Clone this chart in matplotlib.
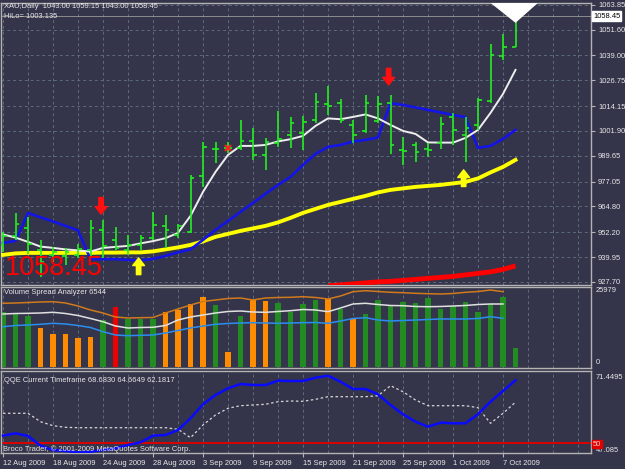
import matplotlib
matplotlib.use('Agg')
import matplotlib.pyplot as plt
from matplotlib.patches import Polygon
from matplotlib.ticker import FixedLocator, NullFormatter
from matplotlib import font_manager
import numpy as np

plt.rcParams['font.family'] = ['Liberation Sans', 'DejaVu Sans']

# ---------------- data ----------------
tick_idx = [0, 4, 8, 12, 16, 20, 24, 28, 32, 36, 40]
tick_labels = ['12 Aug 2009', '18 Aug 2009', '24 Aug 2009', '28 Aug 2009', '3 Sep 2009',
               '9 Sep 2009', '15 Sep 2009', '21 Sep 2009', '25 Sep 2009', '1 Oct 2009', '7 Oct 2009']

opens = [945.91, 950.34, 954.27, 943.46, 941.00, 940.51, 941.00, 943.46, 953.28, 948.37, 943.46, 945.91,
         949.35, 955.25, 950.83, 952.30, 979.82, 993.09, 993.58, 993.58, 997.02, 990.14, 996.04, 999.97,
         1000.95, 1007.34, 1015.20, 1015.69, 1004.88, 1001.93, 1006.85, 1015.69, 992.60, 995.05, 993.09,
         996.04, 1008.81, 999.97, 1004.88, 1016.68, 1038.79, 1043.00]
highs = [952.30, 961.64, 959.67, 948.37, 944.93, 944.44, 946.41, 958.20, 958.20, 954.76, 950.83, 950.83,
         962.13, 960.66, 956.23, 980.31, 996.53, 996.53, 996.53, 1007.34, 1003.41, 998.49, 1011.76, 1008.81,
         1009.30, 1020.61, 1024.05, 1017.66, 1007.34, 1019.62, 1019.13, 1019.62, 998.99, 996.53, 996.04,
         1008.81, 1010.78, 1008.81, 1018.15, 1044.69, 1049.60, 1059.15]
lows = [942.47, 948.37, 941.49, 930.19, 937.56, 936.09, 939.53, 939.53, 939.53, 943.46, 941.00, 943.46,
        948.37, 944.44, 949.35, 951.81, 974.42, 986.21, 991.12, 992.60, 987.68, 982.77, 994.07, 993.58,
        992.60, 1005.86, 1009.80, 1005.86, 996.04, 1000.95, 1005.86, 990.63, 985.23, 986.70, 989.16,
        993.09, 995.05, 986.70, 1002.42, 1015.69, 1036.82, 1043.00]
closes = [950.34, 956.23, 946.41, 937.56, 942.47, 942.47, 943.95, 954.27, 945.42, 944.44, 945.91, 949.35,
          955.74, 953.28, 955.25, 978.84, 994.07, 993.09, 993.58, 997.02, 990.14, 996.53, 998.00, 1005.86,
          1006.36, 1016.18, 1014.22, 1007.34, 999.97, 1015.69, 1015.20, 995.05, 992.11, 991.61, 992.60,
          1005.37, 1002.42, 1003.41, 1017.17, 1039.28, 1043.00, 1058.45]

ma_white = [951.07, 949.50, 947.39, 945.08, 944.44, 943.70, 943.21, 942.62, 944.44, 944.93, 945.42, 946.65,
            947.78, 949.21, 951.81, 960.16, 971.96, 981.79, 990.14, 994.56, 994.56, 995.05, 996.77, 997.85,
            999.48, 1004.39, 1008.08, 1007.68, 1008.81, 1010.04, 1008.08, 1004.88, 1001.93, 1000.46, 996.28,
            996.18, 996.18, 998.49, 1002.42, 1010.78, 1020.12, 1031.91]
trail_blue = [946.90, 947.88, 961.64, 959.43, 957.46, 955.25, 953.04, 938.89, 938.89, 938.89, 938.54, 938.30,
              939.03, 940.51, 942.23, 943.70, 948.37, 953.28, 957.71, 962.13, 966.55, 970.98, 975.40, 979.33,
              985.23, 990.63, 994.07, 995.05, 996.68, 997.51, 998.74, 1015.55, 1014.71, 1013.48, 1012.25,
              1011.02, 1009.80, 1008.67, 993.58, 994.56, 998.00, 1002.42]
ma_yellow = [941.00, 941.74, 941.98, 941.98, 941.98, 941.98, 941.98, 941.98, 942.13, 942.13, 942.23, 942.23,
             942.72, 943.70, 944.69, 945.91, 947.63, 949.85, 951.32, 952.79, 954.02, 955.25, 956.97, 959.18,
             961.64, 963.60, 965.57, 967.04, 968.52, 969.99, 971.71, 972.94, 973.68, 974.42, 974.91, 975.40,
             976.14, 976.87, 978.59, 981.54, 984.24, 987.68]
red_start = 26
ma_red = [925.77, 926.26, 926.75, 927.24, 927.73, 927.98, 928.47, 928.96, 929.45, 929.94, 930.43, 931.17,
          931.91, 932.65, 933.88, 935.60]

sell_idx = [8, 31]
sell_tip = [961.0, 1024.5]
buy_idx = [11, 37]
buy_tip = [939.5, 982.8]
cross_idx = [18]

tri_x = [39.1, 42.7, 41.0]
tri_y = [1064.8, 1064.8, 1055.5]

price_ticks = [1063.85, 1051.60, 1039.00, 1026.75, 1014.15, 1001.90, 989.65, 977.05, 964.80, 952.20,
               939.95, 927.70]

volume = [18220, 17880, 17090, 12990, 10890, 10890, 9560, 10090, 15750, 19980, 15890, 15890, 16090, 18220,
          18980, 20980, 23310, 20750, 5000, 17090, 22650, 22080, 21320, 18220, 20980, 22310, 22750, 19220,
          15990, 17650, 22310, 20750, 21550, 21210, 22880, 19320, 20320, 21750, 18220, 20980, 23210, 6430]
vol_class = ['g', 'g', 'g', 'o', 'o', 'o', 'o', 'o', 'g', 'r', 'g', 'g', 'g', 'o', 'o', 'o', 'o', 'g', 'o',
             'g', 'o', 'o', 'g', 'g', 'g', 'g', 'o', 'g', 'o', 'g', 'g', 'g', 'g', 'g', 'g', 'g', 'g', 'g',
             'g', 'g', 'g', 'g']
vol_ma_orange = [21217, 21316, 21483, 21650, 21750, 21316, 20317, 18985, 17986, 16654, 16320, 16420, 16487,
                 17986, 19318, 20650, 21816, 22316, 22815, 22982, 22316, 22982, 23148, 23215, 23415, 23148,
                 22649, 23648, 25080, 25413, 25147, 24880, 24747, 24547, 24414, 24314, 24481, 24880, 25147,
                 25646, 25080]
vol_ma_white = [17653, 17819, 17886, 17986, 18219, 17819, 17153, 16154, 15088, 13656, 12990, 13156, 13223,
                13822, 15654, 16654, 17320, 17986, 18485, 18652, 18319, 18219, 18485, 18752, 19152, 18985,
                18419, 19651, 20983, 21217, 20817, 20484, 20417, 20151, 20084, 20151, 20317, 20484, 20817,
                20983, 20983]
vol_ma_blue = [13423, 13822, 13989, 14222, 14555, 14322, 13822, 13156, 11757, 10658, 10425, 10558, 10658,
               11324, 12157, 12990, 13656, 14222, 14489, 14655, 14755, 14655, 14555, 14655, 14755, 14822,
               14555, 15321, 16154, 16420, 15654, 15321, 15488, 15654, 15821, 15987, 15987, 15987, 16154,
               16753, 16220]
vol_max = 25979

qqe_rsi = [52.23, 52.94, 52.14, 49.26, 47.98, 47.68, 47.30, 47.47, 47.98, 48.48, 49.46, 50.27, 52.23, 52.44,
           53.92, 57.40, 61.56, 64.32, 66.31, 67.59, 67.29, 67.29, 68.57, 68.48, 68.48, 69.46, 70.05, 68.27,
           66.10, 66.10, 64.53, 61.35, 58.59, 56.39, 54.90, 56.09, 55.91, 55.91, 58.59, 62.33, 65.51, 68.68]
qqe_trail = [58.88, 58.88, 58.88, 56.39, 55.20, 54.72, 54.60, 54.60, 54.60, 54.60, 54.60, 54.60, 54.60,
             54.60, 54.13, 51.63, 55.41, 58.38, 60.37, 61.14, 61.35, 61.56, 62.33, 62.54, 62.45, 63.04,
             63.81, 63.81, 63.81, 63.81, 64.11, 67.08, 65.30, 62.83, 61.14, 61.14, 61.14, 61.14, 60.55,
             55.91, 58.88, 62.18]
qqe_title_vals = [68.6830, 64.6649, 62.1817]
qqe_level = 50
qqe_min, qqe_max = 47.085, 71.4495

# ---------------- styling ----------------
W, H = 625, 469
BG = '#34354a'
GRID = '#5d6b7a'
FRAME = '#b4b4b4'
TXT = '#e8e8e8'
FS = 5.4

installed = {f.name for f in font_manager.fontManager.ttflist}
if 'Liberation Sans Narrow' in installed:
    big_family, big_size = ['Liberation Sans Narrow'], 22.5
else:
    big_family, big_size = ['Liberation Sans', 'DejaVu Sans'], 19.5

fig = plt.figure(figsize=(W / 100, H / 100), dpi=100, facecolor=BG)


def px_axes(x0, y0, x1, y1):
    ax = fig.add_axes([x0 / W, 1 - y1 / H, (x1 - x0) / W, (y1 - y0) / H])
    ax.set_facecolor(BG)
    for s in ax.spines.values():
        s.set_color(FRAME)
        s.set_linewidth(1.0)
    ax.set_xlim(-0.16, 47.04)
    ax.xaxis.set_major_locator(FixedLocator(tick_idx))
    ax.xaxis.set_minor_locator(FixedLocator(list(range(0, 48, 2))))
    ax.grid(True, which='both', axis='x', color=GRID, linestyle=(0, (3, 3)), linewidth=0.7)
    ax.tick_params(axis='x', which='both', length=0, labelbottom=False)
    ax.set_axisbelow(True)
    return ax


def ftext(x, y, s, **kw):
    kw.setdefault('color', TXT)
    kw.setdefault('fontsize', FS)
    kw.setdefault('va', 'center')
    return fig.text(x / W, 1 - y / H, s, **kw)


idx = np.arange(len(closes))

# ---------------- main price panel ----------------
ax = px_axes(1, 3, 591, 285)
ax.set_ylim(926.2, 1064.8)
ax.yaxis.tick_right()
ax.set_yticks(price_ticks)
ax.set_yticklabels(['%.2f' % p for p in price_ticks])
ax.tick_params(axis='y', colors=FRAME, labelcolor=TXT, labelsize=FS, length=3, pad=2)
ax.grid(True, axis='y', color=GRID, linestyle=(0, (3, 3)), linewidth=0.7)

ax.axhline(closes[-1], color='#9a9a9a', linewidth=0.6, zorder=1)

ax.plot(np.arange(red_start, red_start + len(ma_red)), ma_red, color='#ff0000', linewidth=3.5, zorder=3,
        solid_capstyle='butt')
ax.plot(idx, ma_yellow, color='#ffff00', linewidth=2.8, zorder=3)
ax.plot(idx, trail_blue, color='#1414e6', linewidth=1.9, zorder=3)
ax.plot(idx, ma_white, color='#eeeeee', linewidth=1.4, zorder=3)

bar_c = '#22ee22'
ax.vlines(idx, lows, highs, color=bar_c, linewidth=1.2, zorder=4)
ax.hlines(opens, idx - 0.3, idx, color=bar_c, linewidth=1.2, zorder=4)
ax.hlines(closes, idx, idx + 0.3, color=bar_c, linewidth=1.2, zorder=4)
ax.plot([idx[i] for i in cross_idx], [closes[i] for i in cross_idx], 'x', color='#ff2020',
        markersize=4, markeredgewidth=1.5, zorder=5)

astyle = 'simple,head_length=0.55,head_width=0.85,tail_width=0.32'
for i, p in zip(sell_idx, sell_tip):
    ax.annotate('', xy=(i - 0.15, p), xytext=(0, 12), textcoords='offset points',
                arrowprops=dict(arrowstyle=astyle, color='#ff1010', mutation_scale=10,
                                shrinkA=0, shrinkB=0), zorder=6)
for i, p in zip(buy_idx, buy_tip):
    ax.annotate('', xy=(i - 0.15, p), xytext=(0, -12), textcoords='offset points',
                arrowprops=dict(arrowstyle=astyle, color='#ffff10', mutation_scale=10,
                                shrinkA=0, shrinkB=0), zorder=6)

ax.add_patch(Polygon(list(zip(tri_x, tri_y)), closed=True, facecolor='white', edgecolor='white',
                     zorder=6, clip_on=True))

ax.text(0.006, 0.06, '%.2f' % closes[-1], transform=ax.transAxes, color='#ff0000', fontsize=big_size,
        family=big_family, va='center', ha='left', zorder=7)

ftext(4, 7, 'XAU,Daily  %.2f %.2f %.2f %.2f' % (opens[-1], highs[-1], lows[-1], closes[-1]))
ftext(4, 16, 'HiLo= 1003.135')
fig.text(593 / W, 1 - 16 / H, '%.2f' % closes[-1], color='black', fontsize=FS, va='center', ha='left',
         bbox=dict(boxstyle='square,pad=0.15', facecolor='white', edgecolor='white'))

# ---------------- volume panel ----------------
av = px_axes(1, 287, 591, 368)
av.set_ylim(-333, 26645)
av.set_yticks([])
cmap = {'g': '#228b22', 'o': '#ff8c00', 'r': '#ee0000'}
av.bar(idx, volume, width=0.42, color=[cmap[c] for c in vol_class], zorder=2)
vidx = np.arange(len(vol_ma_orange))
av.plot(vidx, vol_ma_orange, color='#d07a1c', linewidth=1.1, zorder=3)
av.plot(vidx, vol_ma_white, color='#e0e0e0', linewidth=1.1, zorder=3)
av.plot(vidx, vol_ma_blue, color='#2a8ef0', linewidth=1.1, zorder=3)
ftext(4, 293, 'Volume Spread Analyzer 6544')
ftext(596, 290, str(vol_max))
ftext(596, 363, '0')

# ---------------- QQE panel ----------------
aq = px_axes(1, 371, 591, 453)
aq.set_ylim(qqe_min, qqe_max)
aq.set_yticks([])
aq.axhline(qqe_level, color='#dd0000', linewidth=1.4, zorder=2)
aq.plot(idx, qqe_trail, color='#d8d8d8', linewidth=0.9, linestyle=(0, (2, 2)), zorder=3)
aq.plot(idx, qqe_rsi, color='#0a0aff', linewidth=1.8, zorder=4)
aq.tick_params(axis='x', which='major', length=3, color=FRAME, labelbottom=True, labelsize=FS,
               labelcolor=TXT, pad=2)
aq.set_xticklabels(tick_labels, ha='left')
aq.xaxis.set_minor_formatter(NullFormatter())
ftext(4, 380, 'QQE Current Timeframe %.4f %.4f %.4f' % tuple(qqe_title_vals))
ftext(3, 449, 'Broco Trader, \u00a9 2001-2009 MetaQuotes Software Corp.')
ftext(596, 377, '%.4f' % qqe_max)
ftext(596, 450, '%.3f' % qqe_min)
fig.text(593 / W, 1 - 444 / H, str(qqe_level), color='#ffd0d0', fontsize=FS, va='center', ha='left',
         bbox=dict(boxstyle='square,pad=0.1', facecolor='#e00000', edgecolor='#e00000'))

fig.savefig('out.png', dpi=100, facecolor=BG)
